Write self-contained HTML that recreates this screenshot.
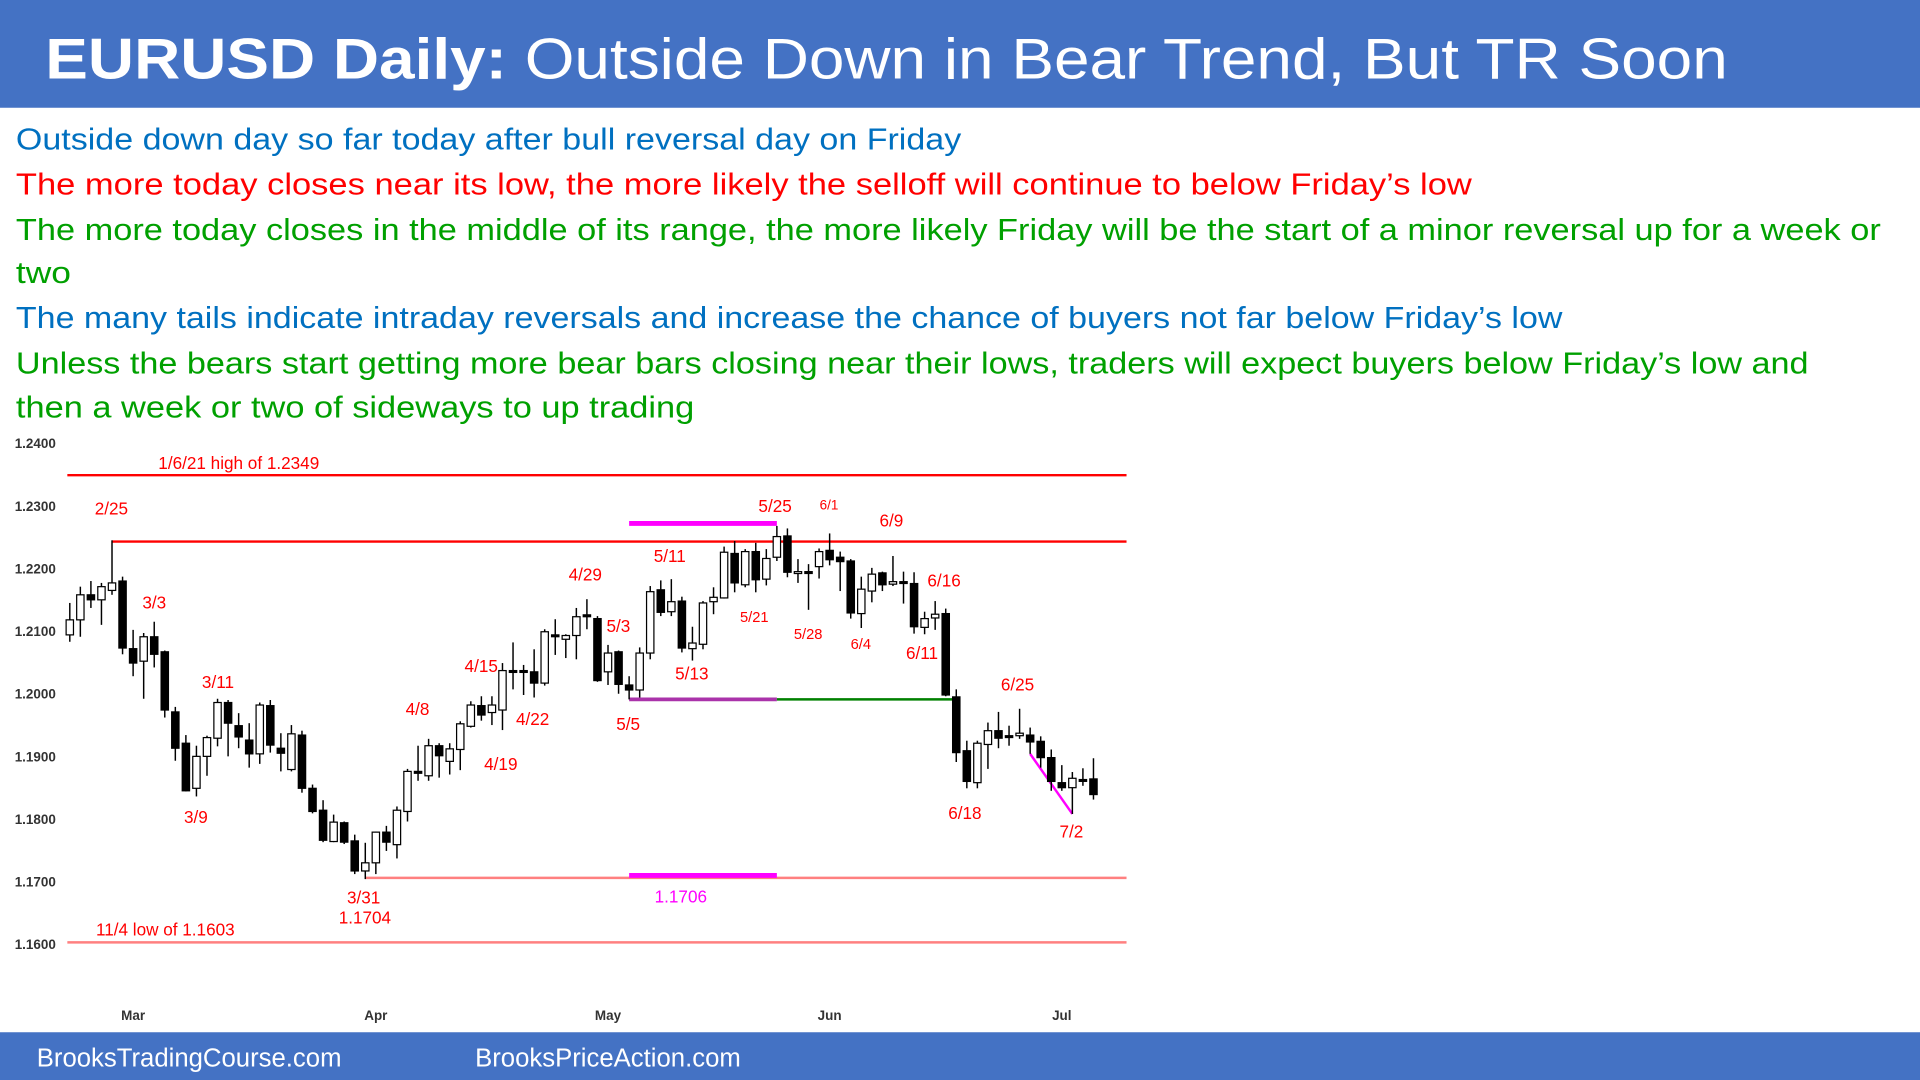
<!DOCTYPE html>
<html><head><meta charset="utf-8"><style>
html,body{margin:0;padding:0;background:#fff;overflow:hidden}
svg{display:block}
text{font-family:"Liberation Sans",sans-serif}
</style></head><body>
<svg id="root" width="1920" height="1080" viewBox="0 0 1568 882" xmlns="http://www.w3.org/2000/svg">
<rect x="0" y="0" width="1568" height="88" fill="#4472C4"/>
<text x="37" y="64" fill="#fff" font-size="47" textLength="1374" lengthAdjust="spacingAndGlyphs"><tspan font-weight="bold">EURUSD Daily:</tspan> Outside Down in Bear Trend, But TR Soon</text>
<g font-size="25">
<text x="13" y="122" fill="#0070C0" textLength="772" lengthAdjust="spacingAndGlyphs">Outside down day so far today after bull reversal day on Friday</text>
<text x="13" y="159" fill="#FF0000" textLength="1189" lengthAdjust="spacingAndGlyphs">The more today closes near its low, the more likely the selloff will continue to below Friday’s low</text>
<text x="13" y="196" fill="#00A000" textLength="1523" lengthAdjust="spacingAndGlyphs">The more today closes in the middle of its range, the more likely Friday will be the start of a minor reversal up for a week or</text>
<text x="13" y="231" fill="#00A000" textLength="45" lengthAdjust="spacingAndGlyphs">two</text>
<text x="13" y="268" fill="#0070C0" textLength="1263" lengthAdjust="spacingAndGlyphs">The many tails indicate intraday reversals and increase the chance of buyers not far below Friday’s low</text>
<text x="13" y="305" fill="#00A000" textLength="1464" lengthAdjust="spacingAndGlyphs">Unless the bears start getting more bear bars closing near their lows, traders will expect buyers below Friday’s low and</text>
<text x="13" y="341" fill="#00A000" textLength="554" lengthAdjust="spacingAndGlyphs">then a week or two of sideways to up trading</text>
</g>
<g id="chart"></g>
<rect x="0" y="843" width="1568" height="39" fill="#4472C4"/>
<text x="30" y="871" fill="#fff" font-size="21">BrooksTradingCourse.com</text>
<text x="388" y="871" fill="#fff" font-size="21">BrooksPriceAction.com</text>
</svg>
<script>
const opens=[1.2094,1.2118,1.2158,1.2150,1.2165,1.2180,1.2072,1.2052,1.2091,1.2067,1.1971,1.1921,1.1849,1.1900,1.1929,1.1986,1.1949,1.1926,1.1904,1.1981,1.1913,1.1879,1.1934,1.1849,1.1814,1.1764,1.1794,1.1765,1.1717,1.1730,1.1779,1.1759,1.1812,1.1876,1.1869,1.1917,1.1892,1.1911,1.1948,1.1981,1.1970,1.1974,1.2037,1.2037,1.2035,1.2017,1.2094,1.2087,1.2093,1.2126,1.2120,1.2035,1.2067,1.2014,1.2006,1.2065,1.2166,1.2131,1.2148,1.2072,1.2079,1.2147,1.2153,1.2224,1.2174,1.2227,1.2183,1.2218,1.2252,1.2192,1.2195,1.2203,1.2229,1.2218,1.2212,1.2128,1.2164,1.2193,1.2175,1.2179,1.2176,1.2106,1.2121,1.2128,1.1995,1.1909,1.1858,1.1919,1.1941,1.1933,1.1933,1.1934,1.1924,1.1898,1.1858,1.1850,1.1863,1.1864];
const highs=[1.2145,1.2171,1.2180,1.2177,1.2245,1.2187,1.2102,1.2097,1.2115,1.2069,1.1979,1.1934,1.1917,1.1933,1.1992,1.1990,1.1969,1.1953,1.1986,1.1990,1.1937,1.1950,1.1941,1.1855,1.1830,1.1807,1.1796,1.1775,1.1762,1.1780,1.1789,1.1820,1.1880,1.1917,1.1928,1.1921,1.1921,1.1956,1.1988,1.1996,1.1996,1.2049,1.2082,1.2046,1.2071,1.2103,1.2119,1.2095,1.2137,1.2151,1.2124,1.2078,1.2069,1.2028,1.2074,1.2172,1.2181,1.2183,1.2155,1.2107,1.2148,1.2170,1.2235,1.2244,1.2231,1.2241,1.2231,1.2268,1.2264,1.2215,1.2207,1.2232,1.2256,1.2227,1.2215,1.2187,1.2201,1.2195,1.2220,1.2195,1.2194,1.2131,1.2148,1.2136,1.2007,1.1925,1.1925,1.1954,1.1971,1.1949,1.1976,1.1946,1.1932,1.1911,1.1886,1.1875,1.1881,1.1897];
const lows=[1.2083,1.2091,1.2137,1.2110,1.2158,1.2063,1.2028,1.1992,1.2042,1.1962,1.1893,1.1844,1.1836,1.1869,1.1916,1.1900,1.1913,1.1882,1.1888,1.1906,1.1876,1.1876,1.1842,1.1809,1.1763,1.1763,1.1760,1.1712,1.1704,1.1712,1.1749,1.1737,1.1796,1.1861,1.1861,1.1866,1.1871,1.1878,1.1946,1.1957,1.1950,1.1942,1.2007,1.1998,1.1994,1.2013,1.2062,1.2057,1.2055,1.2103,1.2019,1.2014,1.2000,1.1991,1.1994,1.2055,1.2124,1.2124,1.2066,1.2053,1.2071,1.2127,1.2152,1.2162,1.2170,1.2162,1.2173,1.2212,1.2186,1.2177,1.2134,1.2184,1.2205,1.2164,1.2120,1.2105,1.2146,1.2164,1.2172,1.2144,1.2096,1.2095,1.2102,1.1996,1.1891,1.1849,1.1849,1.1880,1.1913,1.1917,1.1928,1.1904,1.1882,1.1845,1.1845,1.1808,1.1853,1.1831];
const closes=[1.2118,1.2158,1.2150,1.2171,1.2177,1.2073,1.2049,1.2091,1.2063,1.1974,1.1913,1.1845,1.1900,1.1930,1.1986,1.1953,1.1931,1.1904,1.1982,1.1918,1.1905,1.1936,1.1849,1.1812,1.1766,1.1795,1.1763,1.1717,1.1730,1.1779,1.1763,1.1814,1.1876,1.1873,1.1917,1.1901,1.1912,1.1952,1.1982,1.1966,1.1982,1.2037,1.2035,1.2036,1.2017,1.2099,1.2093,1.2093,1.2123,1.2123,1.2021,1.2065,1.2015,1.2006,1.2065,1.2163,1.2130,1.2147,1.2073,1.2081,1.2145,1.2154,1.2226,1.2177,1.2227,1.2182,1.2216,1.2251,1.2194,1.2195,1.2193,1.2227,1.2214,1.2211,1.2129,1.2167,1.2191,1.2174,1.2179,1.2178,1.2107,1.2120,1.2127,1.1998,1.1906,1.1860,1.1921,1.1941,1.1929,1.1932,1.1937,1.1923,1.1898,1.1860,1.1850,1.1865,1.1862,1.1839];
const yTicks=[1.24,1.23,1.22,1.21,1.20,1.19,1.18,1.17,1.16];
const monthLabels=["Mar","Apr","May","Jun","Jul"];
const monthIdx=[6,29,51,72,94];
const levelValues=[1.2349,1.2243,1.1706,1.1603];

const NS="http://www.w3.org/2000/svg";
const g=document.getElementById('chart');
const X0=57,X1=893,N=opens.length;
function xs(i){return X0+i*(X1-X0)/(N-1);}
function ys(p){return 362+(1.24-p)*5114;}
function mk(tag,attrs,parent){const e=document.createElementNS(NS,tag);for(const k in attrs)e.setAttribute(k,attrs[k]);(parent||g).appendChild(e);return e;}
function txt(s,x,y,attrs){const e=mk('text',Object.assign({x:x,y:y},attrs));e.textContent=s;return e;}

yTicks.forEach(v=>{const t=txt(v.toFixed(4),12,ys(v)+4,{'font-size':11,'font-weight':'bold',fill:'#333'});

});
monthLabels.forEach((m,k)=>{const t=txt(m,xs(monthIdx[k]),833,{'font-size':11,'font-weight':'bold',fill:'#333','text-anchor':'middle'});

});

let l;
l=mk('line',{x1:55,x2:920,y1:ys(levelValues[0]),y2:ys(levelValues[0]),stroke:'#FF0000','stroke-width':2});


l=mk('line',{x1:xs(4),x2:920,y1:ys(levelValues[1]),y2:ys(levelValues[1]),stroke:'#FF0000','stroke-width':2});


l=mk('line',{x1:xs(28),x2:920,y1:ys(levelValues[2]),y2:ys(levelValues[2]),stroke:'#FF8080','stroke-width':2});


l=mk('line',{x1:55,x2:920,y1:ys(levelValues[3]),y2:ys(levelValues[3]),stroke:'#FF8080','stroke-width':2});


l=mk('line',{x1:xs(53),x2:xs(67),y1:ys(highs[67])-2,y2:ys(highs[67])-2,stroke:'#FF00FF','stroke-width':4});


l=mk('line',{x1:xs(53),x2:xs(67),y1:ys(levelValues[2])-2,y2:ys(levelValues[2])-2,stroke:'#FF00FF','stroke-width':4});


l=mk('line',{x1:xs(53),x2:xs(67),y1:ys(lows[53]),y2:ys(lows[53]),stroke:'#AA33AA','stroke-width':3});


l=mk('line',{x1:xs(67),x2:xs(84),y1:ys(lows[53]),y2:ys(lows[53]),stroke:'#008000','stroke-width':2});


l=mk('line',{x1:xs(91),x2:xs(95),y1:ys(lows[91]),y2:ys(lows[95]),stroke:'#FF00FF','stroke-width':2});



for(let i=0;i<N;i++){
 const x=xs(i),bull=closes[i]>=opens[i];
 const w=mk('line',{x1:x,x2:x,y1:ys(highs[i]),y2:ys(lows[i]),stroke:'#000','stroke-width':1.2});
 
 
 const top=ys(Math.max(opens[i],closes[i])),bot=ys(Math.min(opens[i],closes[i]));
 const b=mk('rect',{x:x-3,y:top,width:6,height:Math.max(bot-top,1.5),fill:bull?'#fff':'#000',stroke:'#000','stroke-width':1});
 
 
}

const annText=["1/6/21 high of 1.2349","2/25","3/3","3/11","3/9","4/8","4/15","4/22","4/19","4/29","5/3","5/11","5/13","5/5","5/25","6/1","6/9","5/21","5/28","6/4","6/16","6/11","6/25","6/18","7/2","3/31","1.1704","11/4 low of 1.1603","1.1706"];
const annPos=[[195,383,14],[91,420,14],[126,497,14],[178,562,14],[160,672,14],[341,584,14],[393,549,14],[435,592,14],[409,629,14],[478,474,14],[505,516,14],[547,459,14],[565,555,14],[513,596,14],[633,418,14],[677,416,11],[728,430,14],[616,508,12],[660,522,12],[703,530,12],[771,479,14],[753,538,14],[831,564,14],[788,669,14],[875,684,14],[297,738,14],[298,754,14],[135,764,14],[556,737,14]];
annText.forEach((s,k)=>{const p=annPos[k];
 const t=txt(s,p[0],p[1],{'font-size':p[2],fill:s==="1.1706"?'#FF00FF':'#FF0000','text-anchor':'middle'});
 
 });
</script>
</body></html>
